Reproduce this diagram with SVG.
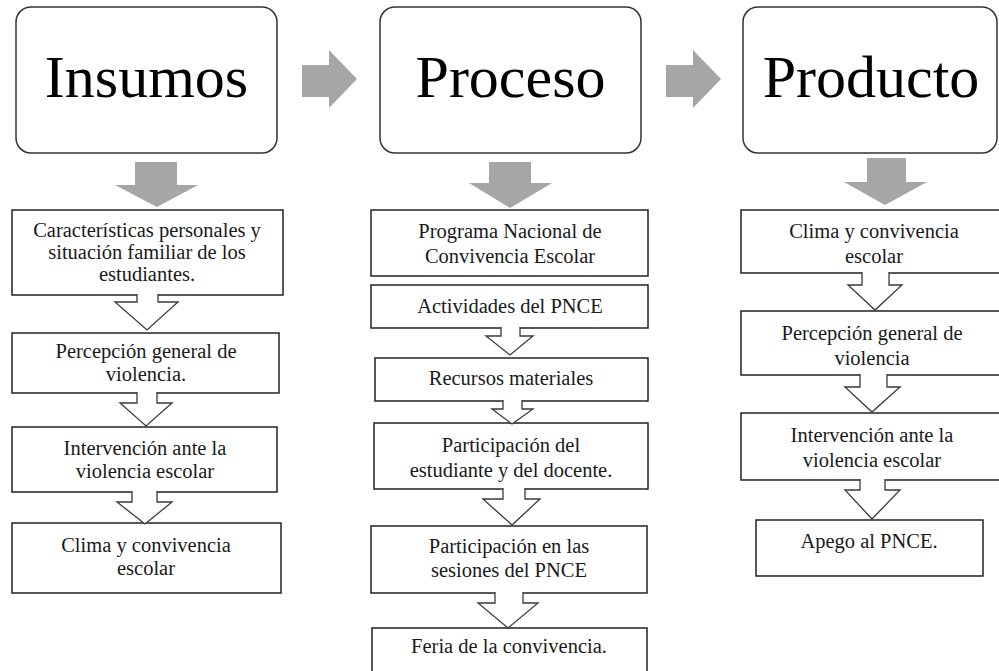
<svg xmlns="http://www.w3.org/2000/svg" width="999" height="671" viewBox="0 0 999 671">
<style>
text{font-family:"Liberation Serif","Times New Roman",serif}
.bg{fill:#fff}
.title{fill:#fff;stroke:#333;stroke-width:1.5}
.box{fill:#fff;stroke:#222;stroke-width:1.5}
.big{font-size:60px;fill:#000;text-anchor:middle}
.t{font-size:20.5px;fill:#1a1a1a;text-anchor:middle}
.g{fill:#a6a6a6;stroke:none}
.h{fill:#fff;stroke:#3a3a3a;stroke-width:1.3;stroke-linejoin:miter}
</style>
<rect class="bg" x="0" y="0" width="999" height="671"/>
<g id="insumos"><rect class="title" x="16" y="7" width="261" height="146" rx="15"/><text class="big" x="146.5" y="97">Insumos</text></g>
<g id="proceso"><rect class="title" x="380" y="7" width="261" height="146" rx="15"/><text class="big" x="510.5" y="97">Proceso</text></g>
<g id="producto"><rect class="title" x="743" y="7" width="254" height="146" rx="15"/><text class="big" x="871" y="97">Producto</text></g>

<g id="l1"><rect class="box" x="12" y="210" width="271" height="85"/><text class="t" x="147" y="237">Características personales y</text><text class="t" x="147" y="259">situación familiar de los</text><text class="t" x="147" y="281">estudiantes.</text></g>
<g id="l2"><rect class="box" x="12" y="333" width="267" height="60"/><text class="t" x="146" y="358">Percepción general de</text><text class="t" x="146" y="381">violencia.</text></g>
<g id="l3"><rect class="box" x="12" y="427" width="265" height="65"/><text class="t" x="145" y="455">Intervención ante la</text><text class="t" x="145" y="478">violencia escolar</text></g>
<g id="l4"><rect class="box" x="12" y="523" width="269" height="70"/><text class="t" x="146" y="552">Clima y convivencia</text><text class="t" x="146" y="575">escolar</text></g>

<g id="m1"><rect class="box" x="371" y="210" width="277" height="66"/><text class="t" x="510" y="238">Programa Nacional de</text><text class="t" x="510" y="263">Convivencia Escolar</text></g>
<g id="m2"><rect class="box" x="371" y="285" width="277" height="43"/><text class="t" x="510" y="313">Actividades del PNCE</text></g>
<g id="m3"><rect class="box" x="375" y="358" width="273" height="43"/><text class="t" x="511" y="385">Recursos materiales</text></g>
<g id="m4"><rect class="box" x="374" y="423" width="274" height="66"/><text class="t" x="511" y="452">Participación del</text><text class="t" x="511" y="477">estudiante y del docente.</text></g>
<g id="m5"><rect class="box" x="371" y="526" width="276" height="67"/><text class="t" x="509" y="553">Participación en las</text><text class="t" x="509" y="577">sesiones del PNCE</text></g>
<g id="m6"><rect class="box" x="372" y="628" width="275" height="50"/><text class="t" x="509" y="653">Feria de la convivencia.</text></g>

<g id="r1"><rect class="box" x="741" y="210" width="270" height="63"/><text class="t" x="874" y="238">Clima y convivencia</text><text class="t" x="874" y="263">escolar</text></g>
<g id="r2"><rect class="box" x="741" y="311" width="270" height="64"/><text class="t" x="872" y="340">Percepción general de</text><text class="t" x="872" y="365">violencia</text></g>
<g id="r3"><rect class="box" x="741" y="413" width="270" height="67"/><text class="t" x="872" y="442">Intervención ante la</text><text class="t" x="872" y="467">violencia escolar</text></g>
<g id="r4"><rect class="box" x="756" y="520" width="227" height="56"/><text class="t" x="869" y="548">Apego al PNCE.</text></g>

<g id="connectors">
<polygon class="g" points="302,65 329,65 329,50 357,79 329,108 329,97 302,97"/>
<polygon class="g" points="666,65 693,65 693,50 721,79 693,108 693,97 666,97"/>
<polygon class="g" points="135,162 177,162 177,185 198,185 157,207 115,185 135,185"/>
<polygon class="g" points="489,162 531,162 531,183 552,183 510,208 469,183 489,183"/>
<polygon class="g" points="867,158 906,158 906,182 927,182 885,205 844,182 867,182"/>

<path class="h" d="M137,294 V302 H115 L147,330 L178,302 H158 V294"/>
<path class="h" d="M137,392 V403 H120 L146,426 L172,403 H157 V392"/>
<path class="h" d="M132,491 V502 H117 L145,524 L172,502 H157 V491"/>

<path class="h" d="M501,327 V336 H486 L510,355 L533,336 H520 V327"/>
<path class="h" d="M503,400 V409 H492 L512,424 L533,409 H522 V400"/>
<path class="h" d="M503,488 V499 H483 L512,525 L540,499 H525 V488"/>
<path class="h" d="M495,592 V603 H478 L508,628 L538,603 H523 V592"/>

<path class="h" d="M862,272 V285 H848 L875,310 L902,285 H889 V272"/>
<path class="h" d="M860,374 V387 H845 L872,412 L900,387 H887 V374"/>
<path class="h" d="M860,479 V490 H845 L872,519 L900,490 H885 V479"/>
</g>
</svg>
